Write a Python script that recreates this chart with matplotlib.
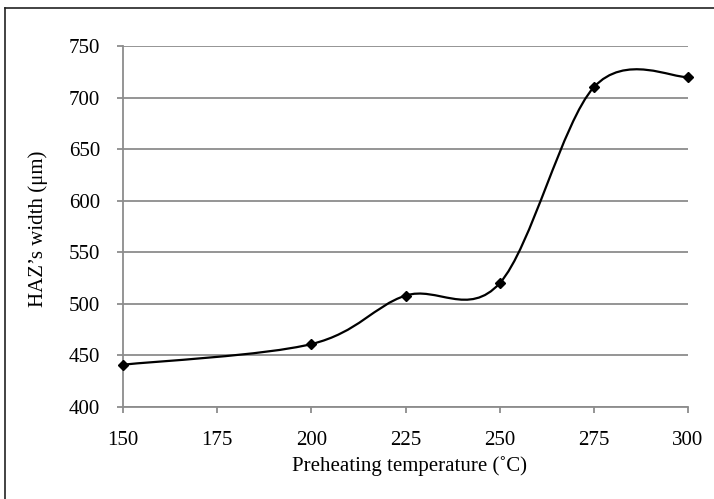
import matplotlib
matplotlib.use("Agg")
import matplotlib.pyplot as plt
import numpy as np
from matplotlib.path import Path
from matplotlib.patches import PathPatch
from matplotlib.lines import Line2D

temps = [150, 200, 225, 250, 275, 300]
widths = [441, 461, 508, 520, 710, 720]
xticks = [150, 175, 200, 225, 250, 275, 300]
yticks = [400, 450, 500, 550, 600, 650, 700, 750]

plt.rcParams['font.family'] = ['Liberation Serif', 'DejaVu Serif']
fig = plt.figure(figsize=(7.14, 4.99), dpi=100)
ax = fig.add_axes([123 / 714, 1 - 407 / 499, 565 / 714, 361 / 499])

# Excel-style smoothed line (cubic Bezier with 1/6 tension)
pts = np.column_stack([temps, widths]).astype(float)
n = len(pts)
verts = [pts[0]]
codes = [Path.MOVETO]
for i in range(n - 1):
    p0 = pts[i - 1] if i > 0 else pts[i]
    p1 = pts[i]
    p2 = pts[i + 1]
    p3 = pts[i + 2] if i + 2 < n else pts[i + 1]
    c1 = p1 + (p2 - p0) / 6.0
    c2 = p2 - (p3 - p1) / 6.0
    verts += [c1, c2, p2]
    codes += [Path.CURVE4] * 3
ax.add_patch(PathPatch(Path(verts, codes), facecolor='none', edgecolor='black', lw=1.6, zorder=3,
                       clip_on=False))
ax.plot(temps, widths, linestyle='none', marker='D', markersize=5.5, color='black', zorder=4,
        clip_on=False)

ax.set_xlim(150, 300)
ax.set_ylim(400, 750)
ax.set_xticks(xticks)
ax.set_yticks(yticks)
ax.yaxis.grid(True, color='#8c8c8c', lw=1.3)
ax.set_axisbelow(True)
for s in ['top', 'right']:
    ax.spines[s].set_visible(False)
for s in ['left', 'bottom']:
    ax.spines[s].set_color('#8c8c8c')
    ax.spines[s].set_linewidth(1.3)
ax.tick_params(axis='both', colors='#8c8c8c', labelcolor='black', labelsize=15, length=4.3, width=1.3)
ax.tick_params(axis='y', pad=12)
ax.tick_params(axis='x', pad=13)
ax.set_xlabel('Preheating temperature (˚C)', fontsize=15, va='center')
ax.xaxis.set_label_coords((410 - 123) / 565, (407 - 466) / 361)
ax.set_ylabel('HAZ’s width (μm)', fontsize=15, va='center')
ax.yaxis.set_label_coords((38 - 123) / 565, (407 - 229) / 361)

# outer chart frame (left and top edges visible)
fig.add_artist(Line2D([5 / 714, 5 / 714], [0, 1 - 8 / 499], transform=fig.transFigure, color='#222222', lw=1.2))
fig.add_artist(Line2D([5 / 714, 1], [1 - 8 / 499, 1 - 8 / 499], transform=fig.transFigure, color='#222222', lw=1.2))
fig.savefig('out.png', dpi=100)
